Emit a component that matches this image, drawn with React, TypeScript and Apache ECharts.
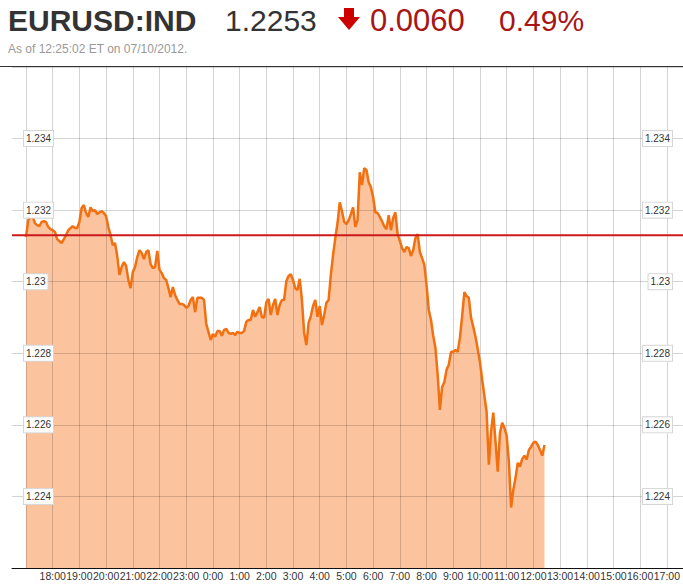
import React, { useEffect, useRef } from "react";
import * as echarts from "echarts";

const SYMBOL = "EURUSD:IND";
const LAST = "1.2253";
const CHANGE = "0.0060";
const PCT = "0.49%";
const AS_OF = "As of 12:25:02 ET on 07/10/2012.";
const PREV_CLOSE = 1.2313;
const STEP_MIN = 5; // sample spacing in minutes, first sample at 17:00 ET
const X_TICK_LABELS = [
  "", "18:00", "19:00", "20:00", "21:00", "22:00", "23:00", "0:00", "1:00", "2:00", "3:00", "4:00", "5:00",
  "6:00", "7:00", "8:00", "9:00", "10:00", "11:00", "12:00", "13:00", "14:00", "15:00", "16:00", "17:00",
];
const Y_MIN = 1.222;
const Y_MAX = 1.236;
const Y_STEP = 0.002;
const PRICES = [
  1.23125, 1.23172, 1.23181, 1.23181, 1.23164, 1.23158, 1.23155, 1.23167, 1.23169, 1.23167,
  1.23153, 1.23147, 1.23144, 1.23139, 1.23119, 1.23114, 1.23108, 1.23119, 1.2313, 1.23144,
  1.2315, 1.23155, 1.2315, 1.2315, 1.23167, 1.23206, 1.23214, 1.23192, 1.23181, 1.23208,
  1.23197, 1.232, 1.23189, 1.23194, 1.23197, 1.23192, 1.23183, 1.23153, 1.2313, 1.23102,
  1.23108, 1.23072, 1.23019, 1.23041, 1.23055, 1.23044, 1.23005, 1.22982, 1.23027, 1.23041,
  1.23069, 1.23088, 1.2308, 1.23063, 1.23083, 1.23088, 1.23049, 1.23038, 1.23041, 1.23086,
  1.23033, 1.23024, 1.2301, 1.23005, 1.22982, 1.22957, 1.22985, 1.22963, 1.22949, 1.22938,
  1.22938, 1.22935, 1.22927, 1.22932, 1.22949, 1.22957, 1.22915, 1.22955, 1.22955, 1.22955,
  1.22949, 1.22882, 1.2286, 1.22837, 1.22854, 1.22846, 1.22862, 1.22862, 1.22849, 1.22865,
  1.22868, 1.22857, 1.22854, 1.22857, 1.22851, 1.2286, 1.22857, 1.22857, 1.22862, 1.22888,
  1.22893, 1.22893, 1.22921, 1.22902, 1.22915, 1.22929, 1.22902, 1.22899, 1.22943, 1.22952,
  1.22907, 1.22935, 1.22952, 1.22907, 1.22935, 1.22949, 1.22949, 1.23002, 1.23016, 1.23021,
  1.23005, 1.22982, 1.22977, 1.23008, 1.22949, 1.22857, 1.22823, 1.22885, 1.22904, 1.22932,
  1.22949, 1.22902, 1.22932, 1.22879, 1.22907, 1.22941, 1.22949, 1.23019, 1.23075, 1.23122,
  1.23164, 1.23222, 1.23197, 1.23167, 1.23161, 1.23172, 1.23189, 1.23208, 1.23153, 1.23172,
  1.23306, 1.2327, 1.23317, 1.23312, 1.23278, 1.23264, 1.23236, 1.23194, 1.23192, 1.23181,
  1.23169, 1.23155, 1.23147, 1.23186, 1.23144, 1.23178, 1.23194, 1.23133, 1.23114, 1.23094,
  1.23083, 1.23097, 1.23094, 1.23072, 1.23088, 1.23122, 1.23133, 1.23083, 1.23066, 1.23047,
  1.22991, 1.22921, 1.22893, 1.22849, 1.22815, 1.2274, 1.22642, 1.22706, 1.2272, 1.22754,
  1.22768, 1.22804, 1.22804, 1.22809, 1.22804, 1.22843, 1.22904, 1.22971, 1.2296, 1.22955,
  1.22899, 1.22874, 1.22846, 1.22812, 1.22776, 1.22726, 1.22681, 1.22636, 1.22489, 1.22581,
  1.22634, 1.22553, 1.22469, 1.22578, 1.22606, 1.22592, 1.2257, 1.22497, 1.22369, 1.22419,
  1.22452, 1.22494, 1.22483, 1.22505, 1.22514, 1.22503, 1.2253, 1.22539, 1.2255, 1.22553,
  1.22544, 1.2253, 1.22514, 1.22544,
];

const FONT = "Arial, 'Liberation Sans', sans-serif";
const GRID_COLOR = "rgba(0,0,0,0.17)";

export default function App() {
  const ref = useRef<HTMLDivElement>(null);
  useEffect(() => {
    document.body.style.margin = "0";
    const chart = echarts.init(ref.current!, undefined, { renderer: "svg" });
    const yLabel = (v: number) => parseFloat(v.toFixed(3)).toString();
    const yAxisBase = {
      type: "value",
      min: Y_MIN,
      max: Y_MAX,
      interval: Y_STEP,
      axisLine: { show: false },
      axisTick: { show: false },
    };
    const labelBox = {
      inside: true,
      showMinLabel: false,
      showMaxLabel: false,
      fontSize: 10,
      fontFamily: FONT,
      color: "#333",
      backgroundColor: "#fff",
      borderColor: "#d6d6d6",
      borderWidth: 1,
      padding: [0, 2, 5, 2],
      formatter: yLabel,
    };
    const priceData = PRICES.map((p, i) => [i * STEP_MIN, p]);
    const wideGrid = { left: 12, right: 0, top: 67, bottom: 17 };
    chart.setOption({
      animation: false,
      backgroundColor: "#fff",
      textStyle: { fontFamily: FONT },
      grid: [
        wideGrid,
        { left: 26, right: 16, top: 67, bottom: 17 },
        wideGrid,
      ],
      xAxis: [
        {
          gridIndex: 0,
          type: "value",
          min: 0,
          max: 1,
          axisLine: { show: true, lineStyle: { color: "#111", width: 1 } },
          axisTick: { show: false },
          axisLabel: { show: false },
          splitLine: { show: false },
          z: 2,
        },
        {
          gridIndex: 1,
          type: "value",
          min: 0,
          max: 1440,
          interval: 60,
          z: 2,
          axisLine: { show: false },
          axisTick: { show: false },
          axisLabel: {
            margin: 2,
            fontSize: 10.5,
            fontFamily: FONT,
            color: "#333",
            formatter: (v: number) => X_TICK_LABELS[Math.round(v / 60)] || "",
          },
          splitLine: { show: true, lineStyle: { color: GRID_COLOR, width: 1 } },
        },
        {
          gridIndex: 2,
          type: "value",
          min: 0,
          max: 1,
          show: false,
        },
      ],
      yAxis: [
        {
          ...yAxisBase,
          gridIndex: 0,
          position: "left",
          z: 10,
          splitLine: { show: false },
          axisLabel: { ...labelBox, margin: 12 },
        },
        {
          ...yAxisBase,
          gridIndex: 0,
          position: "right",
          z: 10,
          splitLine: { show: false },
          axisLabel: { ...labelBox, margin: 11 },
        },
        {
          ...yAxisBase,
          gridIndex: 1,
          show: false,
          splitLine: { show: false },
        },
        {
          ...yAxisBase,
          gridIndex: 2,
          z: 2,
          axisLabel: { show: false },
          splitLine: { show: true, lineStyle: { color: GRID_COLOR, width: 1 } },
        },
      ],
      series: [
        {
          type: "line",
          xAxisIndex: 1,
          yAxisIndex: 2,
          data: priceData,
          showSymbol: false,
          symbol: "none",
          lineStyle: { width: 0, opacity: 0 },
          areaStyle: { color: "#fcc39f", opacity: 1, origin: "start" },
          z: 1,
        },
        {
          type: "line",
          xAxisIndex: 1,
          yAxisIndex: 2,
          data: priceData,
          showSymbol: false,
          symbol: "none",
          lineStyle: { color: "#f2700f", width: 2.5 },
          z: 3,
        },
        {
          type: "line",
          xAxisIndex: 0,
          yAxisIndex: 0,
          data: [[0, PREV_CLOSE], [1, PREV_CLOSE]],
          showSymbol: false,
          symbol: "none",
          lineStyle: { color: "#cc1a1a", width: 2 },
          z: 4,
        },
      ],
      graphic: [
        { type: "line", shape: { x1: 0, y1: 66.5, x2: 683, y2: 66.5 }, style: { stroke: "#333", lineWidth: 1 } },
        {
          type: "text",
          x: 8,
          y: 20,
          style: { text: SYMBOL, font: `bold 30px ${FONT}`, fill: "#333", verticalAlign: "middle" },
        },
        {
          type: "text",
          x: 225,
          y: 20,
          style: { text: LAST, font: `30px ${FONT}`, fill: "#333", verticalAlign: "middle" },
        },
        {
          type: "polygon",
          shape: {
            points: [[344, 8], [354, 8], [354, 17], [360, 17], [349, 30], [338, 17], [344, 17]],
          },
          style: { fill: "#cc0000" },
        },
        {
          type: "text",
          x: 370,
          y: 20,
          style: { text: CHANGE, font: `31px ${FONT}`, fill: "#a81515", verticalAlign: "middle" },
        },
        {
          type: "text",
          x: 499,
          y: 20,
          style: { text: PCT, font: `30px ${FONT}`, fill: "#a81515", verticalAlign: "middle" },
        },
        {
          type: "text",
          x: 8,
          y: 49,
          style: { text: AS_OF, font: `12px ${FONT}`, fill: "#999", verticalAlign: "middle" },
        },
      ],
    });
    return () => chart.dispose();
  }, []);
  return <div ref={ref} style={{ position: "absolute", left: 0, top: 0, width: 683, height: 585 }} />;
}
